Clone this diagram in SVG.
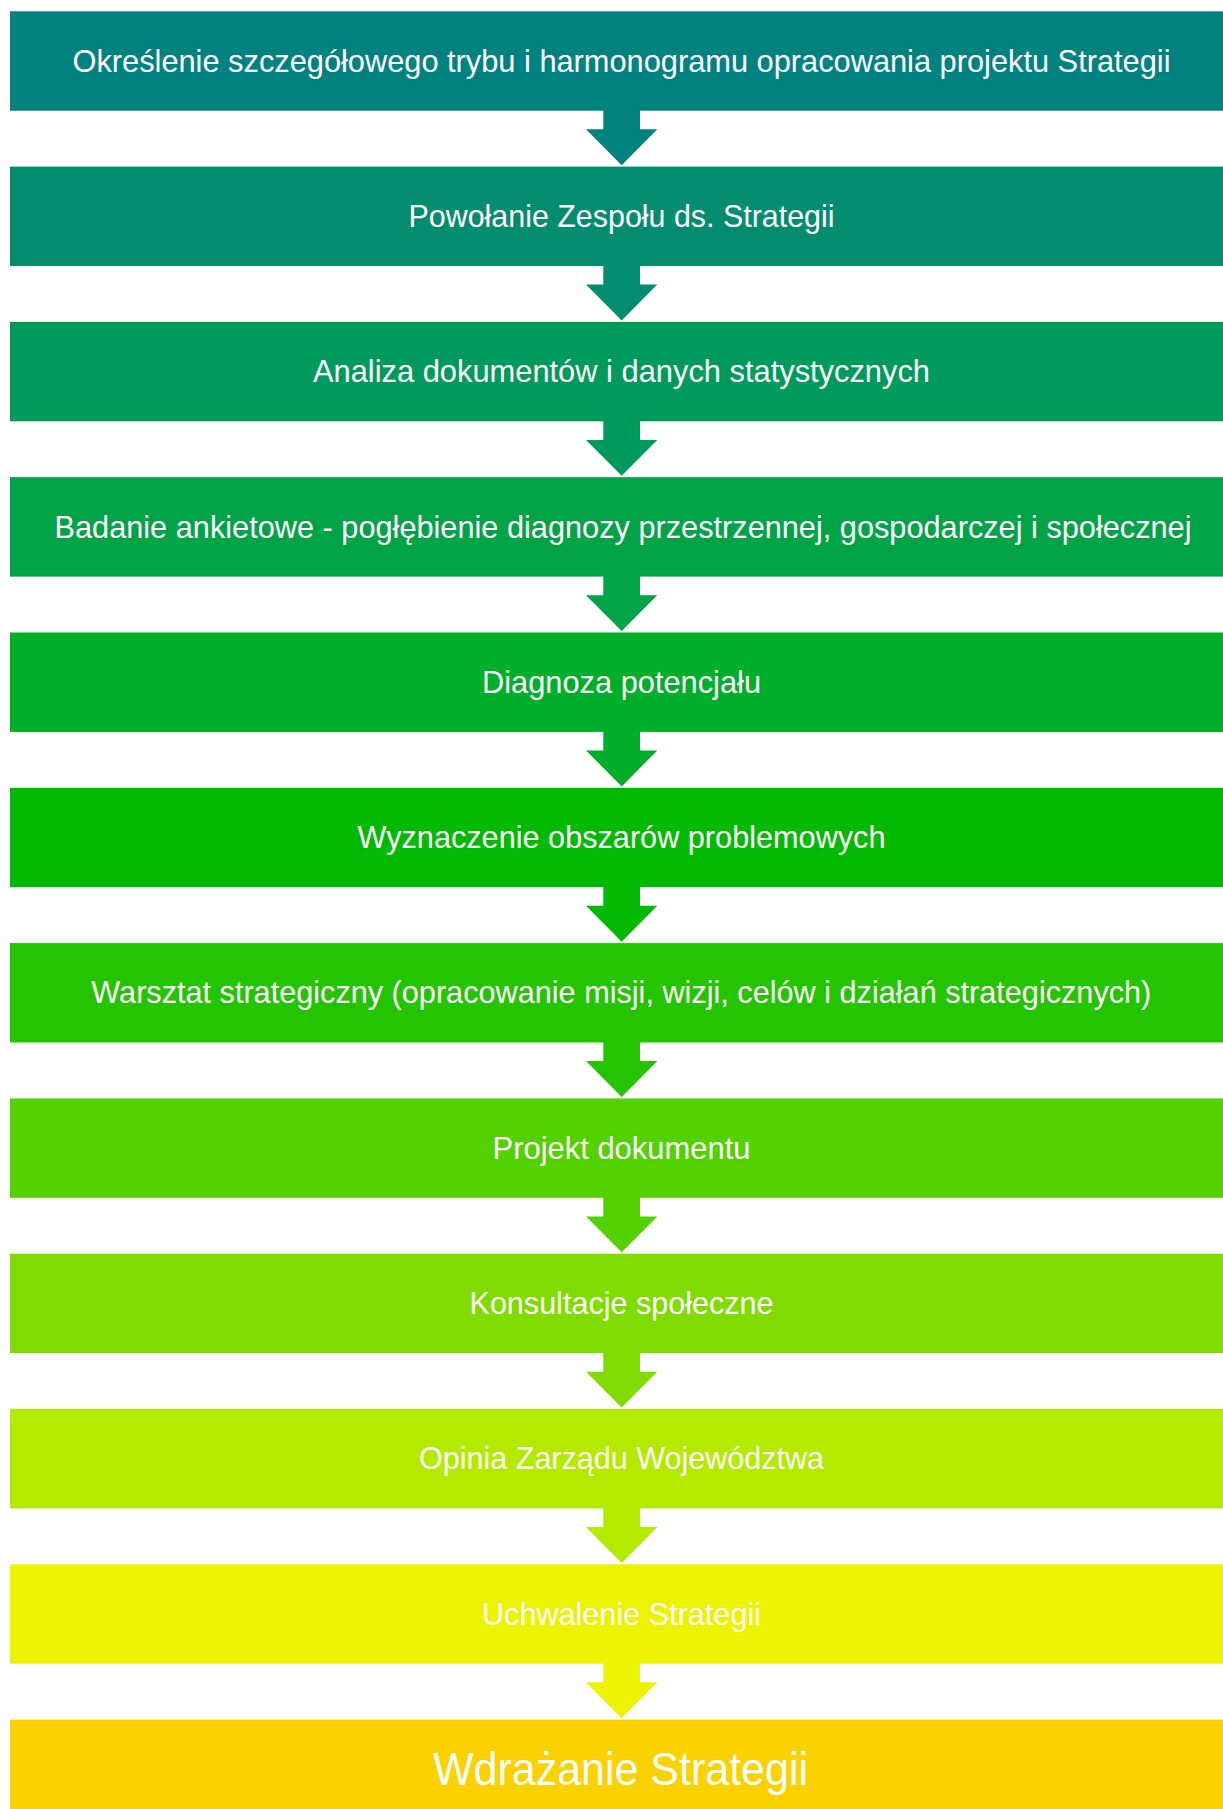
<svg xmlns="http://www.w3.org/2000/svg" xmlns:xlink="http://www.w3.org/1999/xlink" width="1223" height="1809" viewBox="0 0 1223 1809">
<style>
  .lbl { font-family: "Liberation Sans", Arial, sans-serif; font-size: 32px; fill: #ffffff; text-anchor: middle; }
  .big { font-size: 46px; }
</style>
<defs>
  <path id="arr" d="M603.3,-1 H640 V18.6 H657.3 L621.7,54.5 L586,18.6 H603.3 Z"/>
</defs>
<rect width="1223" height="1809" fill="#ffffff"/>
<g id="connectors">
  <use href="#arr" y="110.7" fill="#008280"/>
  <use href="#arr" y="266.0" fill="#038C6E"/>
  <use href="#arr" y="421.3" fill="#009A5C"/>
  <use href="#arr" y="576.6" fill="#00A346"/>
  <use href="#arr" y="731.9" fill="#00AF29"/>
  <use href="#arr" y="887.2" fill="#02BA02"/>
  <use href="#arr" y="1042.5" fill="#24C500"/>
  <use href="#arr" y="1197.8" fill="#53D100"/>
  <use href="#arr" y="1353.1" fill="#80DC00"/>
  <use href="#arr" y="1508.4" fill="#B4E900"/>
  <use href="#arr" y="1663.7" fill="#ECF300"/>
</g>
<g id="n1"><rect x="10" y="11.3" width="1213" height="99.4" fill="#008280"/><text class="lbl" x="621.5" y="71.6" textLength="1098" lengthAdjust="spacingAndGlyphs">Określenie szczegółowego trybu i harmonogramu opracowania projektu Strategii</text></g>
<g id="n2"><rect x="10" y="166.6" width="1213" height="99.4" fill="#038C6E"/><text class="lbl" x="621.5" y="226.9" textLength="426" lengthAdjust="spacingAndGlyphs">Powołanie Zespołu ds. Strategii</text></g>
<g id="n3"><rect x="10" y="321.9" width="1213" height="99.4" fill="#009A5C"/><text class="lbl" x="621.5" y="382.2" textLength="617" lengthAdjust="spacingAndGlyphs">Analiza dokumentów i danych statystycznych</text></g>
<g id="n4"><rect x="10" y="477.2" width="1213" height="99.4" fill="#00A346"/><text class="lbl" x="623" y="537.5" textLength="1137" lengthAdjust="spacingAndGlyphs">Badanie ankietowe - pogłębienie diagnozy przestrzennej, gospodarczej i społecznej</text></g>
<g id="n5"><rect x="10" y="632.5" width="1213" height="99.4" fill="#00AF29"/><text class="lbl" x="621.5" y="692.8" textLength="279" lengthAdjust="spacingAndGlyphs">Diagnoza potencjału</text></g>
<g id="n6"><rect x="10" y="787.8" width="1213" height="99.4" fill="#02BA02"/><text class="lbl" x="621.5" y="848.1" textLength="528" lengthAdjust="spacingAndGlyphs">Wyznaczenie obszarów problemowych</text></g>
<g id="n7"><rect x="10" y="943.1" width="1213" height="99.4" fill="#24C500"/><text class="lbl" x="621.3" y="1003.4" textLength="1060" lengthAdjust="spacingAndGlyphs">Warsztat strategiczny (opracowanie misji, wizji, celów i działań strategicznych)</text></g>
<g id="n8"><rect x="10" y="1098.4" width="1213" height="99.4" fill="#53D100"/><text class="lbl" x="621.5" y="1158.7" textLength="258" lengthAdjust="spacingAndGlyphs">Projekt dokumentu</text></g>
<g id="n9"><rect x="10" y="1253.7" width="1213" height="99.4" fill="#80DC00"/><text class="lbl" x="621.5" y="1314.0" textLength="304" lengthAdjust="spacingAndGlyphs">Konsultacje społeczne</text></g>
<g id="n10"><rect x="10" y="1409.0" width="1213" height="99.4" fill="#B4E900"/><text class="lbl" x="621.5" y="1469.3" textLength="405" lengthAdjust="spacingAndGlyphs">Opinia Zarządu Województwa</text></g>
<g id="n11"><rect x="10" y="1564.3" width="1213" height="99.4" fill="#ECF300"/><text class="lbl" x="621.5" y="1624.6" textLength="279" lengthAdjust="spacingAndGlyphs">Uchwalenie Strategii</text></g>
<g id="n12"><rect x="10" y="1719.6" width="1213" height="89.4" fill="#FCD100"/><text class="lbl big" x="620.5" y="1785" textLength="375" lengthAdjust="spacingAndGlyphs">Wdrażanie Strategii</text></g>
</svg>
